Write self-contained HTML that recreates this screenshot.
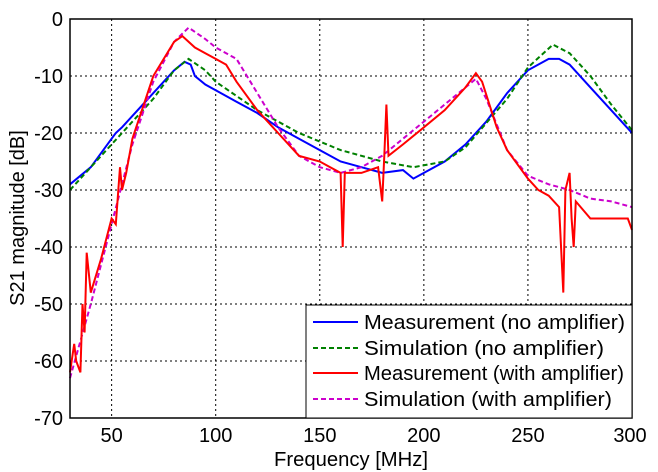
<!DOCTYPE html>
<html><head><meta charset="utf-8"><style>
body{margin:0;background:#fff;}
svg{display:block;font-family:"Liberation Sans",Arial,sans-serif;}
</style></head><body>
<svg id="s" width="658" height="472" xmlns="http://www.w3.org/2000/svg">
<rect x="0" y="0" width="658" height="472" fill="#fff"/>
<g id="grid"></g>
<g id="lines" fill="none" stroke-width="2"></g>
<rect x="70" y="19" width="562" height="399" fill="none" stroke="#000" stroke-width="1.5"/>
<g id="ticks" font-size="20" fill="#000"></g>
<text x="351" y="466" font-size="20" text-anchor="middle" textLength="154" lengthAdjust="spacingAndGlyphs">Frequency [MHz]</text>
<text transform="translate(24,218) rotate(-90)" font-size="20" text-anchor="middle">S21 magnitude [dB]</text>
<g>
<rect x="306" y="305" width="326" height="113" fill="#fff" stroke="#000" stroke-width="1"/>
<line x1="313" y1="322" x2="358" y2="322" stroke="#0000ff" stroke-width="2"/>
<line x1="313" y1="348" x2="358" y2="348" stroke="#008000" stroke-width="2" stroke-dasharray="5,3"/>
<line x1="313" y1="373" x2="358" y2="373" stroke="#ff0000" stroke-width="2"/>
<line x1="313" y1="399" x2="358" y2="399" stroke="#cc00cc" stroke-width="2" stroke-dasharray="5,3"/>
<g font-size="20"><text x="364" y="329" textLength="261" lengthAdjust="spacingAndGlyphs">Measurement (no amplifier)</text>
<text x="364" y="355" textLength="240" lengthAdjust="spacingAndGlyphs">Simulation (no amplifier)</text>
<text x="364" y="380" textLength="260" lengthAdjust="spacingAndGlyphs">Measurement (with amplifier)</text>
<text x="364" y="406" textLength="248" lengthAdjust="spacingAndGlyphs">Simulation (with amplifier)</text></g>
</g>
</svg>
<script>
function X(f){return 70+(f-30)*562/270}
function Y(d){return 19-d*399/70}
var g=document.getElementById('grid'),t=document.getElementById('ticks'),L=document.getElementById('lines'),h='',tt='';
[50,100,150,200,250].forEach(function(f){h+='<line x1="'+X(f)+'" y1="19" x2="'+X(f)+'" y2="418" stroke="#000" stroke-dasharray="2,3"/>';
tt+='<text x="'+X(f)+'" y="442" text-anchor="middle">'+f+'</text>';});
tt+='<text x="630" y="442" text-anchor="middle">300</text>';
for(var d=-10;d>=-60;d-=10){h+='<line x1="70" y1="'+Y(d)+'" x2="632" y2="'+Y(d)+'" stroke="#000" stroke-dasharray="2,3"/>';}
for(var d=0;d>=-70;d-=10){tt+='<text x="63" y="'+(Y(d)+7)+'" text-anchor="end">'+d+'</text>';}
g.innerHTML=h;t.innerHTML=tt;
function P(a,c,dash){var s='';for(var i=0;i<a.length;i+=2)s+=(i?'L':'M')+X(a[i]).toFixed(1)+' '+Y(a[i+1]).toFixed(1);
return '<path d="'+s+'" stroke="'+c+'"'+(dash?' stroke-dasharray="5,3"':'')+'/>';}
var blue=[30,-29,40,-26,50,-21,52,-20,55,-19,60,-17,70,-13,80,-9,85,-7.5,88,-8,90,-10,95,-11.5,100,-12.5,110,-14.5,120,-16.5,130,-19,140,-21,150,-23,160,-25,170,-26,180,-27,190,-26.5,195,-28,200,-27,210,-25,220,-22,230,-18,240,-13,250,-9,260,-7,265,-7,270,-8,280,-12,290,-16,300,-20];
var green=[30,-30,50,-22,70,-14,80,-9,87,-7,95,-9,100,-11,120,-16,140,-20,160,-23,180,-25,195,-26,210,-25,220,-22.5,240,-14,250,-8.5,262,-4.5,270,-6,280,-10,290,-15,300,-19.5];
var red=[30,-62,32,-57,33,-60,35,-62,36,-50,37,-55,38,-41,40,-48,45,-42,50,-35,52,-36,54,-26,55,-30,57,-27,60,-21,70,-10,80,-4,84,-3,90,-5,95,-6,100,-7,105,-8,110,-11,120,-16,130,-20,140,-24,150,-25,155,-26,160,-27,161,-40,162,-27,170,-27,178,-26,180,-32,181,-24,182,-15,183,-24,190,-22,200,-19,210,-16,220,-12,225,-9.5,228,-11,235,-19,240,-23,250,-28,255,-30,260,-31,265,-33,267,-48,268,-30,270,-27,271,-35,272,-40,273,-32,280,-35,290,-35,298,-35,300,-37];
var mag=[30,-63,40,-50,50,-36,60,-22,70,-11,80,-4,87,-1.5,95,-3.5,100,-5,110,-7,120,-13,130,-19,140,-24,150,-26,160,-27,170,-26,180,-24,190,-21,200,-18,210,-15,220,-12,225,-10.5,230,-14,240,-23,250,-27.5,260,-29,270,-30,280,-31.5,290,-32,300,-33];
L.innerHTML=P(blue,'#0000ff')+P(green,'#008000',1)+P(mag,'#cc00cc',1)+P(red,'#ff0000');
</script>
</body></html>
